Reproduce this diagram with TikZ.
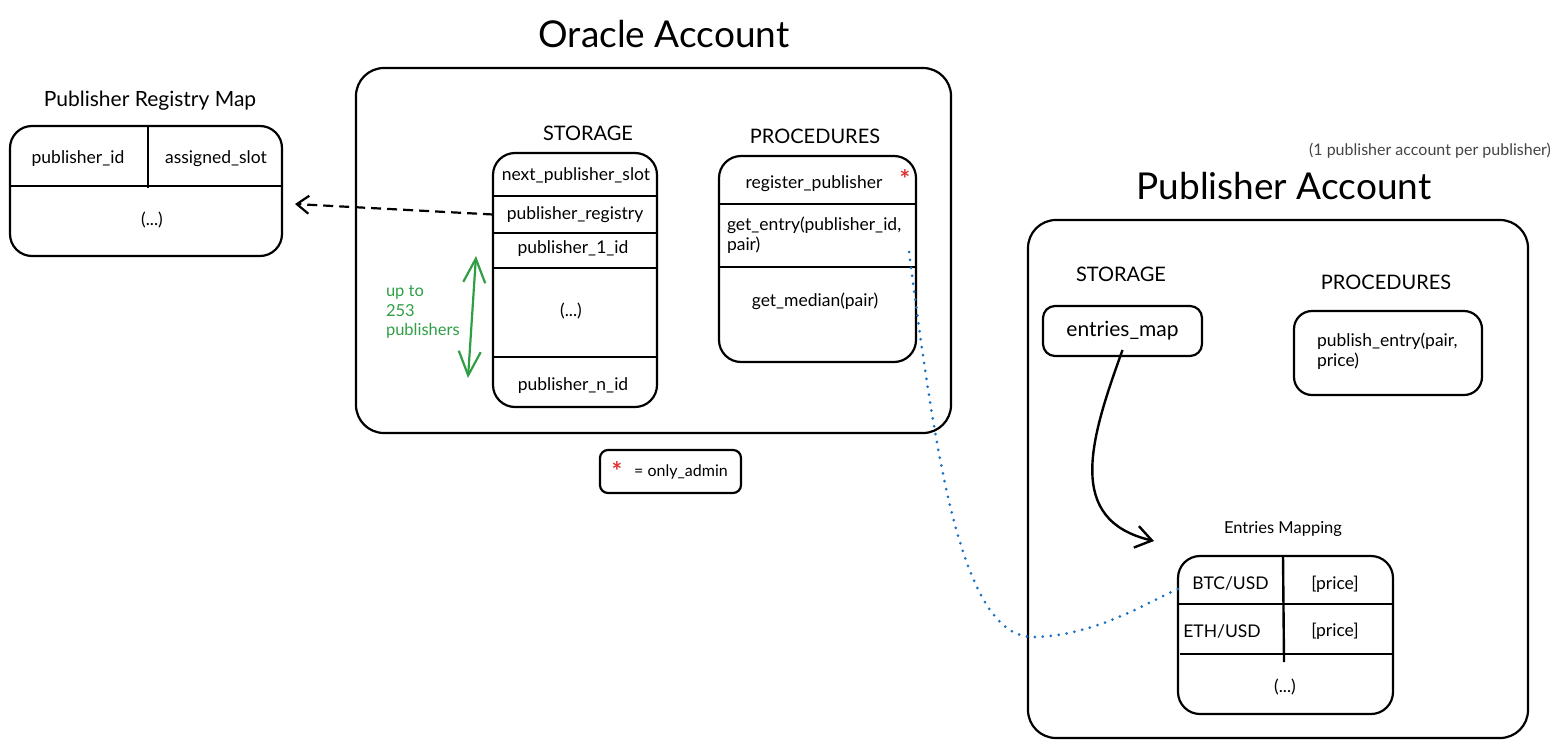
\documentclass[tikz,border=0pt]{standalone}
\usepackage{fontspec}
\setmainfont{Lato}
\usetikzlibrary{arrows.meta,positioning}
\definecolor{sketchgreen}{HTML}{2F9E44}
\definecolor{sketchblue}{HTML}{1971C2}
\definecolor{sketchred}{HTML}{E03131}
\definecolor{notegray}{HTML}{444444}
\tikzset{
  frame/.style={draw, line width=2.2pt, rounded corners=28pt, inner sep=0pt, outer sep=0pt},
  tablebox/.style={draw, line width=2.2pt, rounded corners=22pt, inner sep=0pt, outer sep=0pt},
  smallbox/.style={draw, line width=2.2pt, rounded corners=12pt, inner sep=0pt, outer sep=0pt},
  cell/.style={font=\fontsize{17.5}{20}\selectfont, inner sep=0pt, outer sep=0pt},
  rowline/.style={line width=2.4pt},
  maptitle/.style={font=\fontsize{21}{25}\selectfont},
  section/.style={font=\fontsize{20}{24}\selectfont},
  title/.style={font=\fontsize{37}{43}\selectfont},
  redmark/.style={text=sketchred, font=\fontsize{25}{25}\bfseries, inner sep=0pt},
  refarrow/.style={-{Straight Barb[length=12pt,width=18pt]}, line width=2.2pt, dash pattern=on 10pt off 6pt},
  flowarrow/.style={-{Straight Barb[length=16pt,width=22pt]}, line width=2.4pt},
  rangearrow/.style={{Straight Barb[length=24pt,width=22pt]}-{Straight Barb[length=24pt,width=22pt]}, line width=2.2pt, draw=sketchgreen},
  linkdots/.style={draw=sketchblue, line width=3pt, line cap=round, dash pattern=on 0pt off 8pt}
}
\begin{document}
\begin{tikzpicture}[x=1pt, y=-1pt]
\useasboundingbox (0,0) rectangle (1565,747);

% titles
\node[title] (oracletitle) at (664,34) {Oracle Account};
\node[title] (pubtitle) at (1284,186) {Publisher Account};
\node[font=\fontsize{16}{18}\selectfont, text=notegray] (pubnote) at (1430,151) {(1 publisher account per publisher)};

% publisher registry map
\node[maptitle] (regtitle) at (150,101) {Publisher Registry Map};
\node[tablebox, minimum width=272, minimum height=130] (registry) at (146,191) {};
\draw[rowline] (10,186) -- (282,186);
\draw[rowline] (148,126) -- (148,188);
\node[cell] (regid) at (78,159) {publisher\_id};
\node[cell] (regslot) at (216,159) {assigned\_slot};
\node[cell] (regmore) at (152,220) {(...)};

% oracle account
\node[frame, minimum width=595, minimum height=365] (oracle) at (653.5,250.5) {};
\node[section] (orstorage) at (588,133) {STORAGE};
\node[tablebox, minimum width=164, minimum height=254] (store) at (575,280) {};
\foreach \y in {196,233,268,357}
  \draw[rowline] (493,\y) -- (657,\y);
\node[cell] (nextslot) at (576,176) {next\_publisher\_slot};
\node[cell, minimum width=164, minimum height=37] (pubreg) at (575,214.5) {publisher\_registry};
\node[cell] (pubfirst) at (573,249) {publisher\_1\_id};
\node[cell] (pubmore) at (571,311) {(...)};
\node[cell] (publast) at (573,386) {publisher\_n\_id};

\coordinate (rangetop) at (476,256);
\coordinate (rangebot) at (468,378);
\draw[rangearrow] (rangetop) -- (rangebot);
\node[cell, text=sketchgreen, align=left, anchor=west, font=\fontsize{16.5}{19.5}\selectfont] (rangenote) at (386,312) {up to\\253\\publishers};

\node[section] (orprocs) at (815,136) {PROCEDURES};
\node[tablebox, minimum width=197, minimum height=206] (procs) at (817.5,259) {};
\draw[rowline] (719,204) -- (916,204);
\draw[rowline] (719,267) -- (916,267);
\node[cell] (register) at (814,184) {register\_publisher};
\node[redmark] (registermark) at (905,179) {*};
\node[cell, align=left, anchor=west] (getentry) at (727,235) {get\_entry(publisher\_id,\\pair)};
\node[cell] (getmedian) at (815,301) {get\_median(pair)};

% legend
\node[smallbox, rounded corners=8pt, minimum width=141, minimum height=43] (legend) at (670.5,471.5) {};
\node[redmark] (legendmark) at (617,471) {*};
\node[cell, font=\fontsize{16}{19}\selectfont] (legendtext) at (681,472) {= only\_admin};

% publisher account
\node[frame, minimum width=500, minimum height=518] (publisher) at (1278,479) {};
\node[section] (pubstorage) at (1121,274) {STORAGE};
\node[smallbox, minimum width=159, minimum height=50, font=\fontsize{21}{24}\selectfont] (emap) at (1122.5,331) {entries\_map};
\node[section] (pubprocs) at (1386,282) {PROCEDURES};
\node[smallbox, rounded corners=18pt, minimum width=188, minimum height=84] (publish) at (1388,353) {};
\node[cell, align=left, anchor=west] (publishentry) at (1317,351) {publish\_entry(pair,\\price)};

% entries mapping
\node[font=\fontsize{16.5}{19}\selectfont] (maptitle) at (1283,529) {Entries Mapping};
\node[tablebox, minimum width=215, minimum height=158] (entries) at (1285.5,635) {};
\draw[rowline] (1178,604) -- (1393,604);
\draw[rowline] (1180,654) -- (1393,654);
\draw[rowline] (1283,556) -- (1284,662);
\node[cell, minimum width=105, minimum height=48] (btc) at (1230.5,583) {BTC/USD};
\node[cell] (btcprice) at (1335,584) {[price]};
\node[cell] (eth) at (1222,631) {ETH/USD};
\node[cell] (ethprice) at (1335,631) {[price]};
\node[cell] (entriesmore) at (1285,687) {(...)};

% connectors
\draw[refarrow] (pubreg.west) -- ([shift={(13pt,-13pt)}]registry.east);
\draw[flowarrow] ([yshift=6pt]emap.south) .. controls (1090,440) and (1065,520) .. ([shift={(-24pt,15pt)}]entries.north west);
\coordinate (entryout) at (909,252);
\draw[linkdots] (entryout) .. controls (935,450) and (960,640) .. (1035,637)
  .. controls (1100,635) and (1150,600) .. ([shift={(7pt,-3pt)}]btc.west);
\end{tikzpicture}
\end{document}
